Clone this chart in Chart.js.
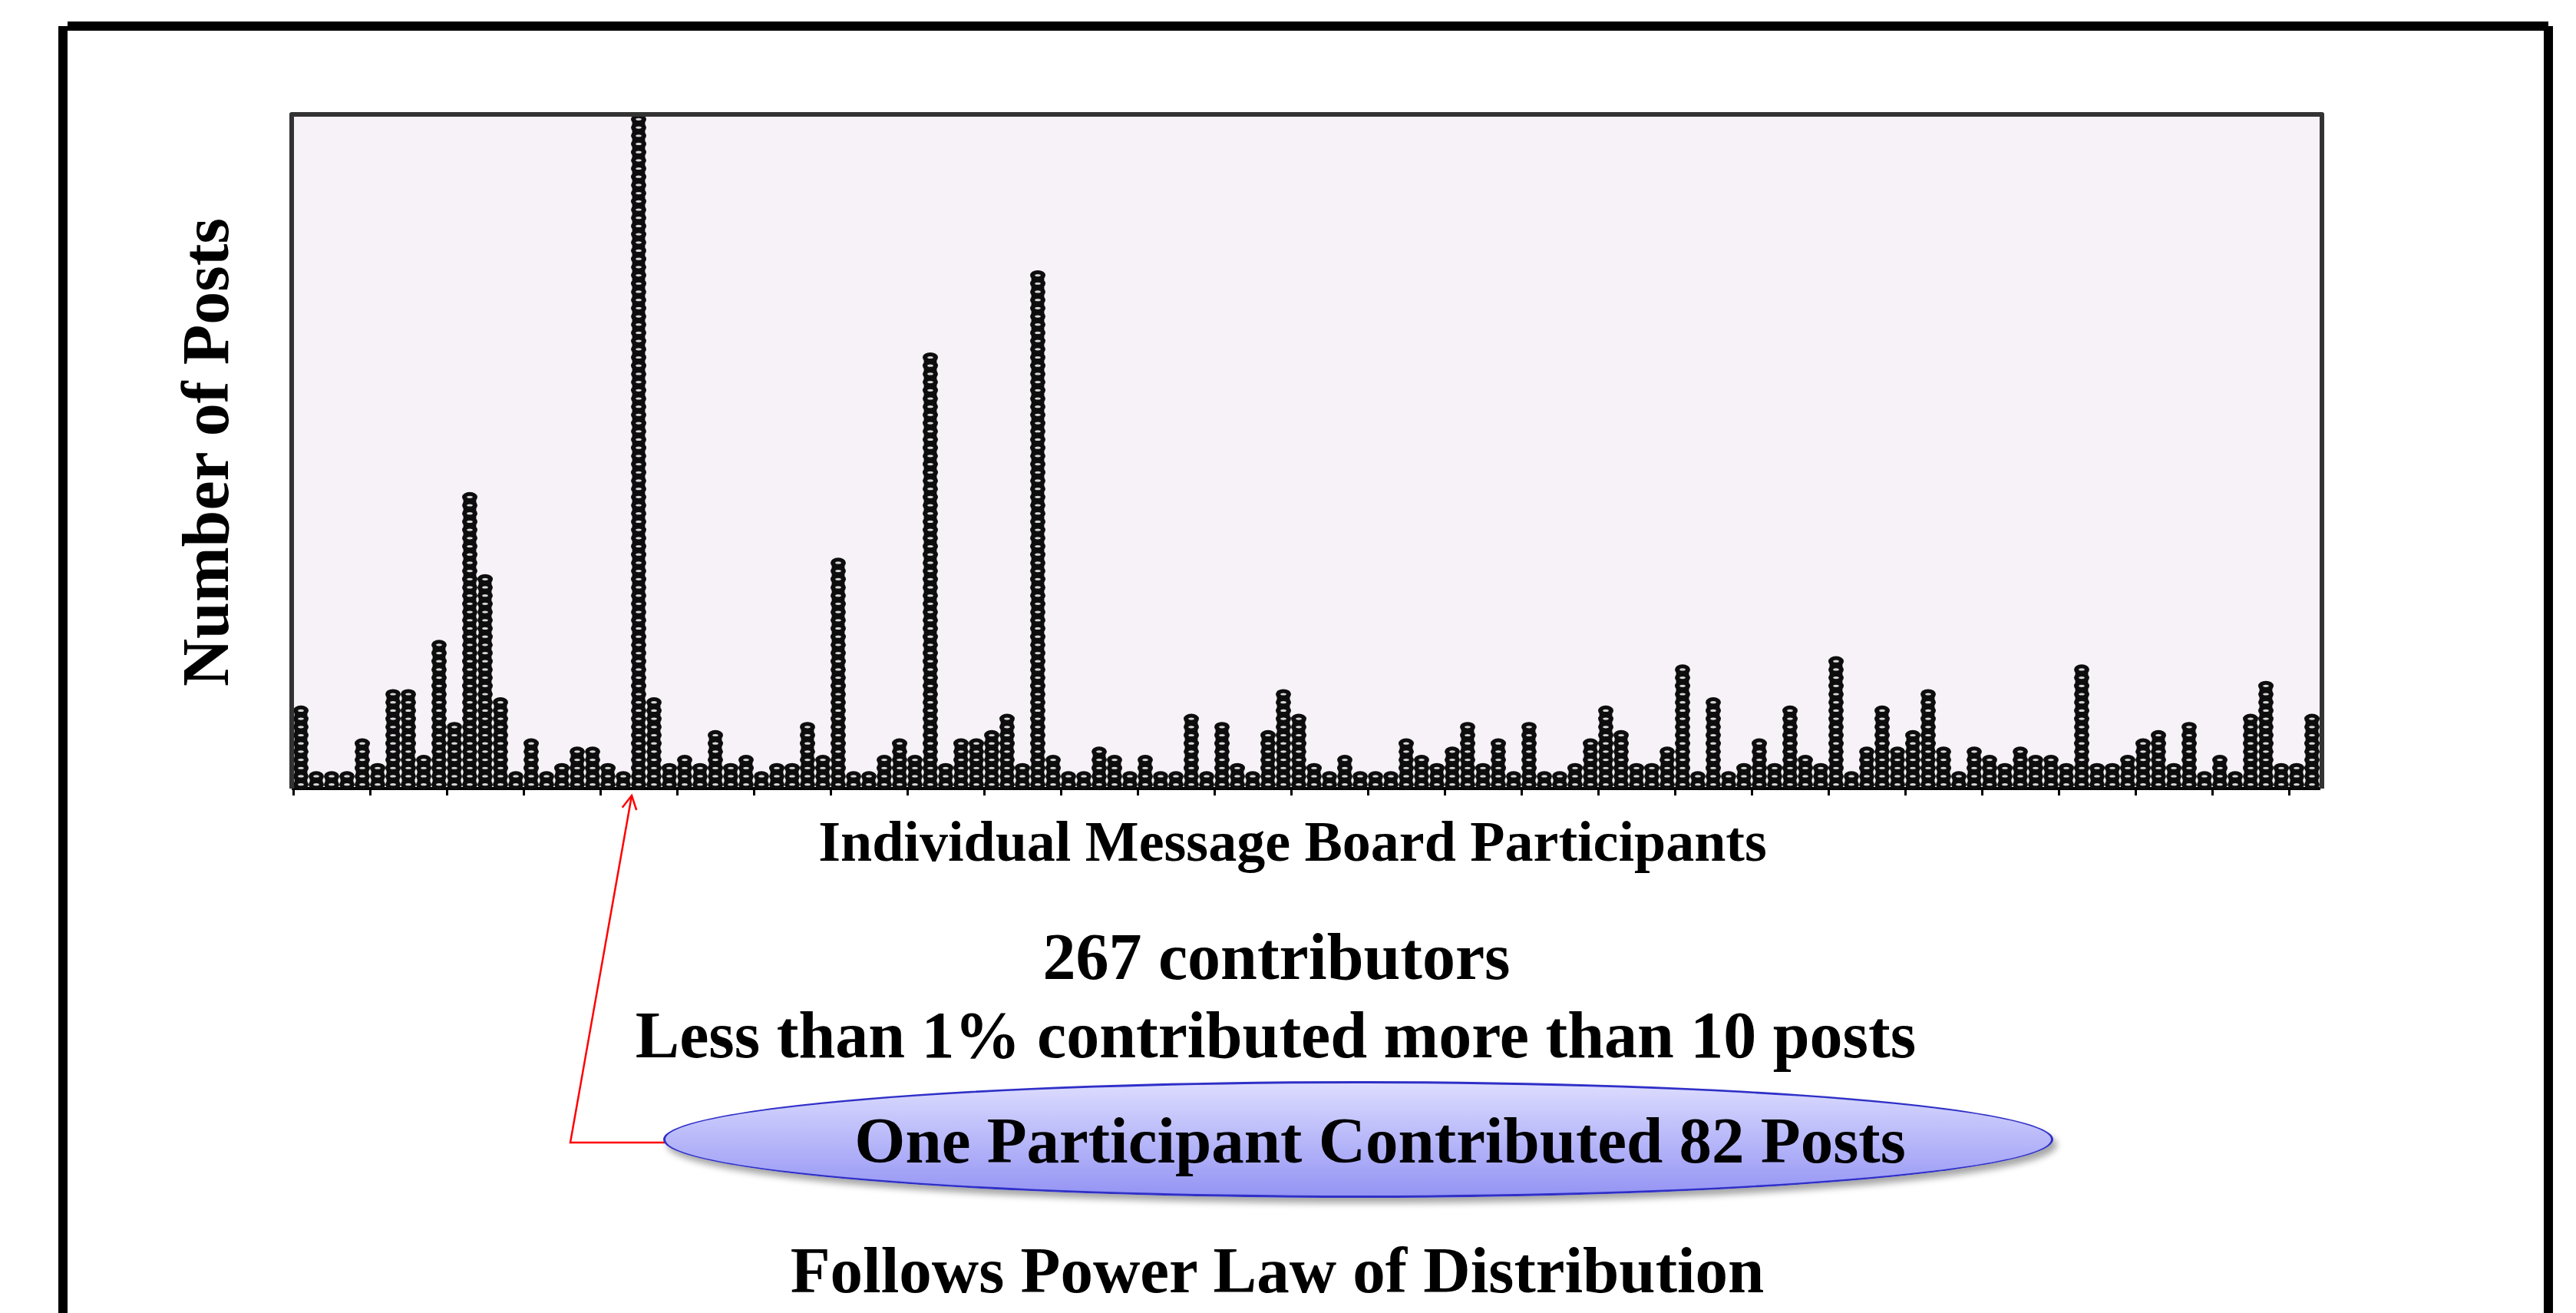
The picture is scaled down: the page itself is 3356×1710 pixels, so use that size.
<!DOCTYPE html>
<html>
<head>
<meta charset="utf-8">
<script src="https://cdn.jsdelivr.net/npm/chart.js@4.4.1/dist/chart.umd.min.js"></script>
<style>
  html, body { margin: 0; padding: 0; background: #fff; }
  #page { position: relative; width: 3356px; height: 1710px; overflow: hidden; background: #fff; }
  #chartBox { position: absolute; left: 0; top: 0; width: 3356px; height: 1710px; }
  .frame { position: absolute; background: #000; }
  .txt {
    position: absolute;
    font-family: "Liberation Serif", "Times New Roman", serif;
    font-weight: bold;
    color: #000;
    white-space: nowrap;
    line-height: 1;
    transform: translate(-50%, -50%);
  }
  #oval {
    position: absolute;
    left: 864px; top: 1408px; width: 1811px; height: 152px;
    box-sizing: border-box;
    border-radius: 50%;
    border: 3px solid #2f2fc8;
    background: linear-gradient(#dcdcff, #9494f4);
    box-shadow: 5px 7px 8px rgba(0, 0, 0, 0.35);
  }
</style>
</head>
<body>
<div id="page">
  <div id="chartBox"><canvas id="postsChart"></canvas></div>

  <div class="frame" style="left:88px; top:28px; width:3232px; height:12px;"></div>
  <div class="frame" style="left:76px; top:34px; width:12px; height:1676px;"></div>
  <div class="frame" style="left:3314px; top:34px; width:12px; height:1676px;"></div>

  <div class="txt" style="left:268px; top:589px; font-size:86px; transform:translate(-50%,-50%) rotate(-90deg);">Number of Posts</div>
  <div class="txt" style="left:1684px; top:1096px; font-size:74px;">Individual Message Board Participants</div>
  <div class="txt" style="left:1663px; top:1246px; font-size:86px;">267 contributors</div>
  <div class="txt" style="left:1662px; top:1348px; font-size:86px;">Less than 1% contributed more than 10 posts</div>

  <svg style="position:absolute; left:0; top:0;" width="3356" height="1710">
    <polyline points="866,1488 743,1488 823,1036" fill="none" stroke="#ff0000" stroke-width="2.5"/>
    <polyline points="810.7,1051.8 823,1036 829.2,1055" fill="none" stroke="#ff0000" stroke-width="2.5"/>
  </svg>

  <div id="oval"></div>
  <div class="txt" style="left:1798px; top:1485px; font-size:85px;">One Participant Contributed 82 Posts</div>
  <div class="txt" style="left:1664px; top:1654px; font-size:85px;">Follows Power Law of Distribution</div>
</div>

<script>
// posts per participant column, read left to right
const postCounts = [
  10, 2, 2, 2, 6, 3, 12, 12, 4, 18,
  8, 36, 26, 11, 2, 6, 2, 3, 5, 5,
  3, 2, 82, 11, 3, 4, 3, 7, 3, 4,
  2, 3, 3, 8, 4, 28, 2, 2, 4, 6,
  4, 53, 3, 6, 6, 7, 9, 3, 63, 4,
  2, 2, 5, 4, 2, 4, 2, 2, 9, 2,
  8, 3, 2, 7, 12, 9, 3, 2, 4, 2,
  2, 2, 6, 4, 3, 5, 8, 3, 6, 2,
  8, 2, 2, 3, 6, 10, 7, 3, 3, 5,
  15, 2, 11, 2, 3, 6, 3, 10, 4, 3,
  16, 2, 5, 10, 5, 7, 12, 5, 2, 5,
  4, 3, 5, 4, 4, 3, 15, 3, 3, 4,
  6, 7, 3, 8, 2, 4, 2, 9, 13, 3,
  3, 9
];
const participants = postCounts.map((v, i) => 'Participant ' + (i + 1));
const yMax = 82;
const tickEvery = 5;

// pale plot background
const plotBackground = {
  id: 'plotBackground',
  beforeDraw(chart) {
    const {ctx, chartArea} = chart;
    ctx.save();
    ctx.fillStyle = '#f7f2f7';
    ctx.fillRect(chartArea.left - 2, chartArea.top - 1, chartArea.right - chartArea.left + 5, chartArea.bottom - chartArea.top + 1);
    ctx.restore();
  }
};

// each post drawn as one coin in the bar's stack
const coinStacks = {
  id: 'coinStacks',
  afterDatasetsDraw(chart) {
    const ctx = chart.ctx;
    const yScale = chart.scales.y;
    const unit = yScale.getPixelForValue(0) - yScale.getPixelForValue(1);
    const bars = chart.getDatasetMeta(0).data.map(b => b.getProps(['x', 'y', 'base', 'width'], true));
    ctx.save();
    ctx.fillStyle = '#0d0d0d';
    bars.forEach(p => {
      const n = Math.round((p.base - p.y) / unit);
      if (n > 1) {
        ctx.fillRect(p.x - p.width * 0.42, p.base - (n - 0.5) * unit, p.width * 0.84, (n - 0.5) * unit);
      }
      for (let i = 0; i < n; i++) {
        ctx.beginPath();
        ctx.ellipse(p.x, p.base - (i + 0.5) * unit, p.width / 2, unit * 0.62, 0, 0, Math.PI * 2);
        ctx.fill();
      }
    });
    ctx.fillStyle = '#d6d6d6';
    bars.forEach(p => {
      const n = Math.round((p.base - p.y) / unit);
      for (let i = 0; i < n; i++) {
        ctx.beginPath();
        ctx.ellipse(p.x, p.base - (i + 0.5) * unit, p.width * 0.19, unit * 0.15, 0, 0, Math.PI * 2);
        ctx.fill();
      }
    });
    ctx.restore();
  }
};

// dark frame round the plot
const plotFrame = {
  id: 'plotFrame',
  afterDraw(chart) {
    const {ctx, chartArea} = chart;
    ctx.save();
    ctx.strokeStyle = '#333';
    ctx.lineWidth = 6;
    ctx.lineJoin = 'round';
    ctx.beginPath();
    ctx.moveTo(chartArea.left - 2, chartArea.bottom);
    ctx.lineTo(chartArea.left - 2, chartArea.top - 1);
    ctx.lineTo(chartArea.right + 3, chartArea.top - 1);
    ctx.lineTo(chartArea.right + 3, chartArea.bottom);
    ctx.stroke();
    ctx.restore();
  }
};

const ctx = document.getElementById('postsChart');
new Chart(ctx, {
  type: 'bar',
  data: {
    labels: participants,
    datasets: [{
      label: 'Posts',
      data: postCounts,
      backgroundColor: 'rgba(0,0,0,0)',
      borderWidth: 0,
      barPercentage: 1,
      categoryPercentage: 1
    }]
  },
  options: {
    responsive: true,
    maintainAspectRatio: false,
    animation: false,
    layout: { padding: { left: 382, right: 334, top: 150, bottom: 674 } },
    plugins: {
      legend: { display: false },
      tooltip: { enabled: false }
    },
    scales: {
      x: {
        z: 1,
        ticks: { display: false },
        grid: {
          drawOnChartArea: false,
          tickLength: 9,
          tickWidth: 3,
          color: (c) => c.index % tickEvery === 0 ? '#000' : 'rgba(0,0,0,0)',
          tickColor: (c) => c.index % tickEvery === 0 ? '#000' : 'rgba(0,0,0,0)'
        },
        border: { display: true, color: '#000', width: 4 }
      },
      y: {
        display: false,
        min: 0,
        max: yMax
      }
    }
  },
  plugins: [plotBackground, coinStacks, plotFrame]
});
</script>
</body>
</html>
